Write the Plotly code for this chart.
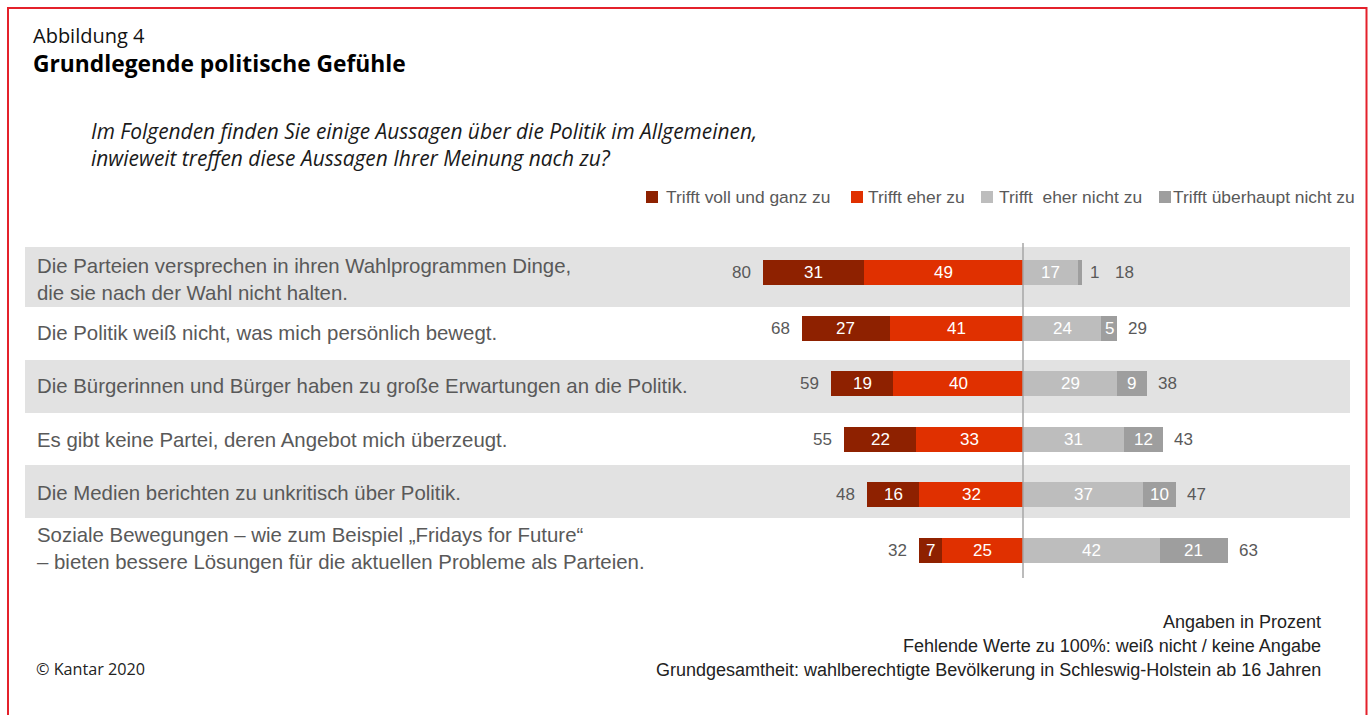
import plotly.graph_objects as go

# ---------------- data ----------------
categories = [
    "Die Parteien versprechen in ihren Wahlprogrammen Dinge,<br>die sie nach der Wahl nicht halten.",
    "Die Politik weiß nicht, was mich persönlich bewegt.",
    "Die Bürgerinnen und Bürger haben zu große Erwartungen an die Politik.",
    "Es gibt keine Partei, deren Angebot mich überzeugt.",
    "Die Medien berichten zu unkritisch über Politik.",
    "Soziale Bewegungen – wie zum Beispiel „Fridays for Future“<br>– bieten bessere Lösungen für die aktuellen Probleme als Parteien.",
]
series_names = ["Trifft voll und ganz zu", "Trifft eher zu", "Trifft  eher nicht zu", "Trifft überhaupt nicht zu"]
voll = [31, 27, 19, 22, 16, 7]
eher = [49, 41, 40, 33, 32, 25]
eher_nicht = [17, 24, 29, 31, 37, 42]
ueberhaupt = [1, 5, 9, 12, 10, 21]
total_zu = [80, 68, 59, 55, 48, 32]
total_nicht = [18, 29, 38, 43, 47, 63]

# ---------------- style ----------------
W, H = 1369, 715
C_VOLL = "#8E2100"
C_EHER = "#E03000"
C_EHERN = "#BDBDBD"
C_UEBER = "#9E9E9E"
colors = [C_VOLL, C_EHER, C_EHERN, C_UEBER]
TXT = "#595959"
ARIAL = "Liberation Sans, Arial, sans-serif"
FRUT = "Open Sans, Noto Sans, sans-serif"

X0_PX = 1023.0     # pixel of zero line
PX_PER = 3.25      # pixels per percent
Y0_PX = 272.5      # pixel of first row centre
ROW_PX = 55.6      # pixel spacing of rows


def px2y(p):
    return (p - Y0_PX) / ROW_PX


def py(p):  # paper y from pixel
    return 1 - p / H


def px(p):
    return p / W


n = len(categories)
rows = list(range(n))
fig = go.Figure()

# bars (explicit bases, diverging around 0)
left_inner_base = [-e for e in eher]
left_outer_base = [-(v + e) for v, e in zip(voll, eher)]
right_inner_base = [0] * n
right_outer_base = list(eher_nicht)

bar_specs = [
    (voll, left_outer_base, C_VOLL, series_names[0]),
    (eher, left_inner_base, C_EHER, series_names[1]),
    (eher_nicht, right_inner_base, C_EHERN, series_names[2]),
    (ueberhaupt, right_outer_base, C_UEBER, series_names[3]),
]
bar_w = 25 / ROW_PX
for vals, base, col, name in bar_specs:
    fig.add_trace(go.Bar(
        x=vals, base=base, y=rows, orientation="h", width=bar_w,
        marker=dict(color=col, line=dict(width=0)), name=name,
        showlegend=False, hoverinfo="skip",
    ))

annotations = []
shapes = []

# alternating background bands (rows 0, 2, 4)
band_px = [(247, 307), (360, 413), (465, 518)]
for top, bot in band_px:
    shapes.append(dict(type="rect", xref="paper", yref="paper", layer="below",
                       x0=px(25), x1=px(1350), y0=py(bot), y1=py(top),
                       fillcolor="#E2E2E2", line=dict(width=0)))

# zero line
shapes.append(dict(type="line", xref="x", yref="y", x0=0, x1=0,
                   y0=px2y(243), y1=px2y(578),
                   line=dict(color="#A6A6A6", width=1.5), layer="above"))

# red frame
shapes.append(dict(type="rect", xref="paper", yref="paper",
                   x0=px(8), x1=px(1366.5), y0=py(725), y1=py(8),
                   line=dict(color="#E4212B", width=2), fillcolor="rgba(0,0,0,0)"))

# segment labels
VAL_FONT = dict(family=ARIAL, size=17, color="white")
for vals, base, col, name in bar_specs:
    for i in rows:
        v = vals[i]
        b = base[i]
        if v * PX_PER >= 16:
            annotations.append(dict(x=b + v / 2, y=i, xref="x", yref="y",
                                    text=str(v), showarrow=False, font=VAL_FONT,
                                    xanchor="center", yanchor="middle"))

# totals (and tiny outer segments placed beside the bar)
for i in rows:
    annotations.append(dict(x=-(voll[i] + eher[i]), y=i, xref="x", yref="y",
                            text=str(total_zu[i]), showarrow=False,
                            font=dict(family=ARIAL, size=17, color=TXT),
                            xanchor="right", yanchor="middle", xshift=-10))
    right_end = eher_nicht[i] + ueberhaupt[i]
    shift = 9
    if ueberhaupt[i] * PX_PER < 16:
        annotations.append(dict(x=right_end, y=i, xref="x", yref="y",
                                text=str(ueberhaupt[i]), showarrow=False,
                                font=dict(family=ARIAL, size=17, color=TXT),
                                xanchor="left", yanchor="middle", xshift=6))
        shift = 31
    annotations.append(dict(x=right_end, y=i, xref="x", yref="y",
                            text=str(total_nicht[i]), showarrow=False,
                            font=dict(family=ARIAL, size=17, color=TXT),
                            xanchor="left", yanchor="middle", xshift=shift))

# category labels
label_dy = [-6.5, -5, -2, -1, 2, 2]
for i, cat in enumerate(categories):
    annotations.append(dict(x=px(35), y=i, xref="paper", yref="y",
                            text=cat, showarrow=False, align="left",
                            font=dict(family=ARIAL, size=20.4, color=TXT),
                            xanchor="left", yanchor="middle", yshift=label_dy[i]))

# legend (manual)
leg_x = [646, 851, 981, 1159]
leg_tx = [664, 866, 997, 1171]
for xx, tx, col, name in zip(leg_x, leg_tx, colors, series_names):
    shapes.append(dict(type="rect", xref="paper", yref="paper",
                       x0=px(xx), x1=px(xx + 12), y0=py(203), y1=py(191),
                       fillcolor=col, line=dict(width=0)))
    annotations.append(dict(x=px(tx), y=py(197), xref="paper", yref="paper",
                            text=name.replace("  ", "&nbsp; "), showarrow=False,
                            font=dict(family=ARIAL, size=17.4, color=TXT),
                            xanchor="left", yanchor="middle"))

# titles
annotations.append(dict(x=px(31), y=py(35), xref="paper", yref="paper",
                        text="Abbildung 4", showarrow=False,
                        font=dict(family=FRUT, size=20, color="#111111"),
                        xanchor="left", yanchor="middle"))
annotations.append(dict(x=px(31), y=py(63.5), xref="paper", yref="paper",
                        text="<b>Grundlegende politische Gefühle</b>", showarrow=False,
                        font=dict(family=FRUT, size=22.8, color="#000000"),
                        xanchor="left", yanchor="middle"))
annotations.append(dict(x=px(89), y=py(144.5), xref="paper", yref="paper",
                        text="<i>Im Folgenden finden Sie einige Aussagen über die Politik im Allgemeinen,<br>"
                             "inwieweit treffen diese Aussagen Ihrer Meinung nach zu?</i>",
                        showarrow=False, align="left",
                        font=dict(family=FRUT, size=20.9, color="#1a1a1a"),
                        xanchor="left", yanchor="middle"))

# footer
foot = ["Angaben in Prozent",
        "Fehlende Werte zu 100%: weiß nicht / keine Angabe",
        "Grundgesamtheit: wahlberechtigte Bevölkerung in Schleswig-Holstein ab 16 Jahren"]
for t, yy in zip(foot, [622, 646, 670]):
    annotations.append(dict(x=px(1323), y=py(yy), xref="paper", yref="paper",
                            text=t, showarrow=False,
                            font=dict(family=ARIAL, size=18, color="#222222"),
                            xanchor="right", yanchor="middle"))
annotations.append(dict(x=px(34), y=py(669), xref="paper", yref="paper",
                        text="© Kantar 2020", showarrow=False,
                        font=dict(family=FRUT, size=16.2, color="#222222"),
                        xanchor="left", yanchor="middle"))

fig.update_layout(
    width=W, height=H, margin=dict(l=0, r=0, t=0, b=0),
    paper_bgcolor="white", plot_bgcolor="rgba(0,0,0,0)",
    barmode="overlay", bargap=0,
    xaxis=dict(range=[-X0_PX / PX_PER, (W - X0_PX) / PX_PER], visible=False,
               fixedrange=True),
    yaxis=dict(range=[px2y(H), px2y(0)], visible=False, fixedrange=True),
    shapes=shapes, annotations=annotations, showlegend=False,
)

fig.write_html("out.html")
